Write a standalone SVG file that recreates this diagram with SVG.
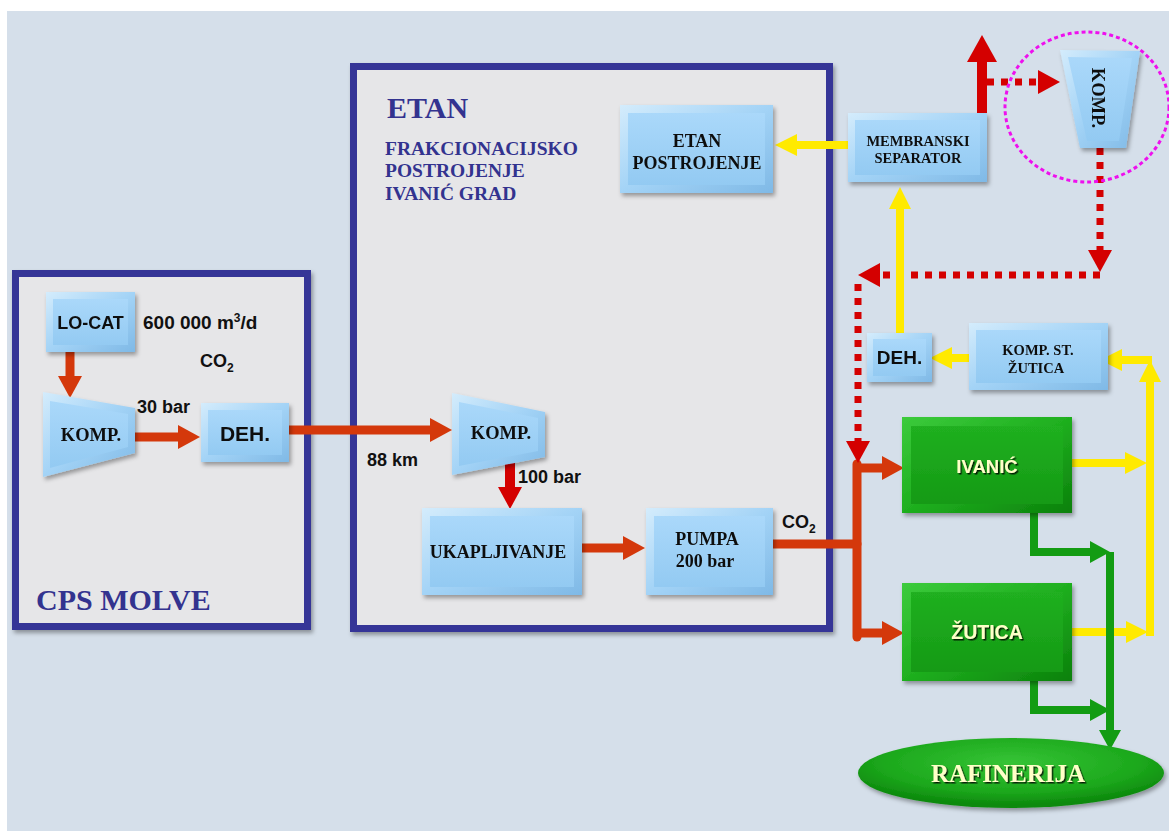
<svg xmlns="http://www.w3.org/2000/svg" width="1169" height="831" viewBox="0 0 1169 831">
<style>
.sans{font-family:"Liberation Sans",Arial,sans-serif;font-weight:bold;fill:#111}
.ser{font-family:"Liberation Serif","Times New Roman",serif;font-weight:bold;fill:#111}
.ttl{font-family:"Liberation Serif","Times New Roman",serif;font-weight:bold;fill:#33338f}
.frame{fill:#e6e6e8;stroke:#353497;stroke-width:7}
.or{stroke:#d4380b;stroke-width:9;fill:none}
.rd{stroke:#d40000;stroke-width:10;fill:none}
.dot{stroke:#d40000;stroke-width:7;stroke-dasharray:7 7;fill:none}
.ye{stroke:#ffea00;stroke-width:8;fill:none}
.gr{stroke:#139c13;stroke-width:8;fill:none}
.gtx{font-family:"Liberation Sans",Arial,sans-serif;font-weight:bold;fill:#ffffc8}
.gtxs{font-family:"Liberation Serif","Times New Roman",serif;font-weight:bold;fill:#ffffc8}
</style>
<defs>
<linearGradient id="bOut" x1="0" y1="0" x2="1" y2="1"><stop offset="0" stop-color="#d4ecfc"/><stop offset="0.5" stop-color="#a3d3f6"/><stop offset="1" stop-color="#7fb9e6"/></linearGradient>
<linearGradient id="bIn" x1="0" y1="0" x2="0" y2="1"><stop offset="0" stop-color="#aad8fa"/><stop offset="1" stop-color="#93caf2"/></linearGradient>
<linearGradient id="gOut" x1="0" y1="0" x2="1" y2="1"><stop offset="0" stop-color="#3ccb3c"/><stop offset="0.5" stop-color="#1faf1f"/><stop offset="1" stop-color="#0b800b"/></linearGradient>
<linearGradient id="gIn" x1="0" y1="0" x2="0" y2="1"><stop offset="0" stop-color="#20b020"/><stop offset="1" stop-color="#159a15"/></linearGradient>
<radialGradient id="gEl" cx="0.5" cy="0.35" r="0.6"><stop offset="0" stop-color="#36c436"/><stop offset="0.7" stop-color="#1ca81c"/><stop offset="1" stop-color="#0d8a0d"/></radialGradient>
<filter id="sh" x="-10%" y="-10%" width="130%" height="130%"><feDropShadow dx="2" dy="3" stdDeviation="2" flood-color="#000" flood-opacity="0.35"/></filter>
<filter id="tsh" x="-10%" y="-20%" width="130%" height="150%"><feDropShadow dx="1.5" dy="1.5" stdDeviation="0.6" flood-color="#000" flood-opacity="0.8"/></filter>
<marker id="ahO" markerUnits="userSpaceOnUse" markerWidth="24" markerHeight="26" viewBox="0 -13 24 26" refX="0" refY="0" orient="auto"><path d="M0,-12 L22,0 L0,12 Z" fill="#d4380b"/></marker>
<marker id="ahR" markerUnits="userSpaceOnUse" markerWidth="24" markerHeight="26" viewBox="0 -13 24 26" refX="0" refY="0" orient="auto"><path d="M0,-12 L22,0 L0,12 Z" fill="#d40000"/></marker>
<marker id="ahRB" markerUnits="userSpaceOnUse" markerWidth="30" markerHeight="32" viewBox="0 -16 30 32" refX="0" refY="0" orient="auto"><path d="M0,-15 L27,0 L0,15 Z" fill="#d40000"/></marker>
<marker id="ahY" markerUnits="userSpaceOnUse" markerWidth="24" markerHeight="26" viewBox="0 -13 24 26" refX="0" refY="0" orient="auto"><path d="M0,-11 L22,0 L0,11 Z" fill="#ffea00"/></marker>
<marker id="ahG" markerUnits="userSpaceOnUse" markerWidth="24" markerHeight="26" viewBox="0 -13 24 26" refX="0" refY="0" orient="auto"><path d="M0,-11 L20,0 L0,11 Z" fill="#139c13"/></marker>
</defs>
<rect x="0" y="0" width="1169" height="831" fill="#ffffff"/>
<rect x="7" y="11" width="1162" height="820" fill="#d5dfea"/>

<g id="cps-molve">
<rect class="frame" x="15.5" y="273.5" width="292" height="353" filter="url(#sh)"/>
<text class="ttl" x="36" y="610" font-size="30">CPS MOLVE</text>
</g>
<g id="etan-frame">
<rect class="frame" x="353.5" y="66.5" width="476" height="562" filter="url(#sh)"/>
<text class="ttl" x="387" y="118" font-size="30">ETAN</text>
<text class="ttl" x="385" y="155" font-size="19.5">FRAKCIONACIJSKO</text>
<text class="ttl" x="385" y="177" font-size="19.5">POSTROJENJE</text>
<text class="ttl" x="385" y="200" font-size="19.5">IVANIĆ GRAD</text>
</g>

<g id="connectors">
<path class="or" d="M70,352 V376" marker-end="url(#ahO)"/>
<path class="or" d="M128,437 H178" marker-end="url(#ahO)"/>
<path class="or" d="M289,430 H430" marker-end="url(#ahO)"/>
<path class="or" d="M582,548 H623" marker-end="url(#ahO)"/>
<path class="or" d="M773,544 H857" stroke-linecap="round"/>
<path class="or" d="M857,464 V637" stroke-linecap="round"/>
<path class="or" d="M857,468 H882" marker-end="url(#ahO)"/>
<path class="or" d="M857,633 H882" marker-end="url(#ahO)"/>
<path class="rd" d="M510,463 V487" marker-end="url(#ahR)"/>
<path class="rd" d="M982,113 V62" marker-end="url(#ahRB)"/>
<path class="dot" d="M987,82 H1038" marker-end="url(#ahR)"/>
<path class="dot" d="M1100,148 V250" marker-end="url(#ahR)"/>
<path class="dot" d="M1100,275 H880" marker-end="url(#ahR)"/>
<path class="dot" d="M858,284 V441" marker-end="url(#ahR)"/>
<path class="ye" d="M848,145 H797" marker-end="url(#ahY)"/>
<path class="ye" d="M900,333 V209" marker-end="url(#ahY)"/>
<path class="ye" d="M969,358 H952" marker-end="url(#ahY)"/>
<path class="ye" d="M1072,463 H1125" marker-end="url(#ahY)"/>
<path class="ye" d="M1072,632 H1126" marker-end="url(#ahY)"/>
<path class="ye" d="M1150,636 V382" marker-end="url(#ahY)"/>
<path class="ye" d="M1152,360 H1122" marker-end="url(#ahY)"/>
<path class="gr" d="M1034,513 V552 H1090" marker-end="url(#ahG)"/>
<path class="gr" d="M1034,681 V710 H1090" marker-end="url(#ahG)"/>
<path class="gr" d="M1110,552 V730" marker-end="url(#ahG)"/>
</g>

<g id="lo-cat" filter="url(#sh)">
<rect x="46" y="292" width="89" height="60" fill="url(#bOut)"/>
<rect x="53" y="299" width="75" height="46" fill="url(#bIn)"/>
<text class="sans" x="90.5" y="329" font-size="18" text-anchor="middle">LO-CAT</text>
</g>
<g id="lbl-600">
<text class="sans" x="143" y="329" font-size="19">600 000 m<tspan font-size="12" dy="-7">3</tspan><tspan dy="7">/d</tspan></text>
<text class="sans" x="200" y="367" font-size="18">CO<tspan font-size="12" dy="5">2</tspan></text>
</g>
<g id="komp1" filter="url(#sh)">
<polygon points="43,392 135,408 135,453 43,477" fill="url(#bOut)"/>
<polygon points="50,401 128,414 128,447 50,468" fill="url(#bIn)"/>
<text class="ser" x="91" y="441" font-size="18.5" text-anchor="middle">KOMP.</text>
</g>
<text class="sans" x="137" y="413" font-size="18">30 bar</text>
<g id="deh1" filter="url(#sh)">
<rect x="201" y="403" width="88" height="59" fill="url(#bOut)"/>
<rect x="208" y="410" width="74" height="45" fill="url(#bIn)"/>
<text class="sans" x="245" y="441" font-size="21" text-anchor="middle">DEH.</text>
</g>
<text class="sans" x="367" y="466" font-size="18">88 km</text>
<g id="komp2" filter="url(#sh)">
<polygon points="452,393 545,412 545,457 452,475" fill="url(#bOut)"/>
<polygon points="459,402 538,418 538,451 459,466" fill="url(#bIn)"/>
<text class="ser" x="501" y="439" font-size="18.5" text-anchor="middle">KOMP.</text>
</g>
<text class="sans" x="518" y="483" font-size="18">100 bar</text>
<g id="ukapljivanje" filter="url(#sh)">
<rect x="422" y="508" width="160" height="87" fill="url(#bOut)"/>
<rect x="430" y="516" width="144" height="71" fill="url(#bIn)"/>
<text class="ser" x="498" y="558" font-size="18" text-anchor="middle">UKAPLJIVANJE</text>
</g>
<g id="pumpa" filter="url(#sh)">
<rect x="646" y="508" width="127" height="87" fill="url(#bOut)"/>
<rect x="654" y="516" width="111" height="71" fill="url(#bIn)"/>
<text class="ser" x="707" y="545" font-size="18" text-anchor="middle">PUMPA</text>
<text class="ser" x="705" y="567" font-size="18" text-anchor="middle">200 bar</text>
</g>
<text class="sans" x="782" y="528" font-size="18">CO<tspan font-size="12" dy="5">2</tspan></text>
<g id="etan-postrojenje" filter="url(#sh)">
<rect x="620" y="105" width="153" height="88" fill="url(#bOut)"/>
<rect x="628" y="113" width="137" height="72" fill="url(#bIn)"/>
<text class="ser" x="697" y="147" font-size="18" text-anchor="middle">ETAN</text>
<text class="ser" x="697" y="169" font-size="18" text-anchor="middle">POSTROJENJE</text>
</g>
<g id="membranski-separator" filter="url(#sh)">
<rect x="848" y="113" width="139" height="69" fill="url(#bOut)"/>
<rect x="855" y="120" width="125" height="55" fill="url(#bIn)"/>
<text class="ser" x="918" y="146" font-size="14.5" text-anchor="middle">MEMBRANSKI</text>
<text class="ser" x="918" y="163" font-size="14.5" text-anchor="middle">SEPARATOR</text>
</g>
<g id="komp3" filter="url(#sh)">
<polygon points="1060,50 1140,51 1126,148 1080,148" fill="url(#bOut)"/>
<polygon points="1068,57 1132,58 1119,141 1087,141" fill="url(#bIn)"/>
<text class="ser" x="1092" y="98" font-size="18.5" text-anchor="middle" transform="rotate(90 1092 98)">KOMP.</text>
</g>
<ellipse id="komp3-mark" cx="1087" cy="107" rx="82" ry="75" fill="none" stroke="#ee10ee" stroke-width="3" stroke-dasharray="4 3"/>
<g id="deh2" filter="url(#sh)">
<rect x="867" y="333" width="65" height="49" fill="url(#bOut)"/>
<rect x="873" y="339" width="53" height="37" fill="url(#bIn)"/>
<text class="sans" x="899.5" y="364" font-size="19" text-anchor="middle">DEH.</text>
</g>
<g id="komp-st-zutica" filter="url(#sh)">
<rect x="969" y="323" width="139" height="67" fill="url(#bOut)"/>
<rect x="976" y="330" width="125" height="53" fill="url(#bIn)"/>
<text class="ser" x="1038" y="355" font-size="14.5" text-anchor="middle">KOMP. ST.</text>
<text class="ser" x="1036" y="373" font-size="14.5" text-anchor="middle">ŽUTICA</text>
</g>
<g id="ivanic" filter="url(#sh)">
<rect x="902" y="417" width="170" height="96" fill="url(#gOut)"/>
<rect x="911" y="426" width="152" height="78" fill="url(#gIn)"/>
<text class="gtx" x="987" y="473" font-size="18.5" text-anchor="middle" filter="url(#tsh)">IVANIĆ</text>
</g>
<g id="zutica" filter="url(#sh)">
<rect x="902" y="583" width="170" height="98" fill="url(#gOut)"/>
<rect x="911" y="592" width="152" height="80" fill="url(#gIn)"/>
<text class="gtx" x="987" y="639" font-size="19.5" text-anchor="middle" filter="url(#tsh)">ŽUTICA</text>
</g>
<g id="rafinerija" filter="url(#sh)">
<ellipse cx="1011" cy="773" rx="153" ry="35" fill="url(#gEl)"/>
<text class="gtxs" x="1008" y="782" font-size="25" text-anchor="middle" filter="url(#tsh)">RAFINERIJA</text>
</g>
</svg>
